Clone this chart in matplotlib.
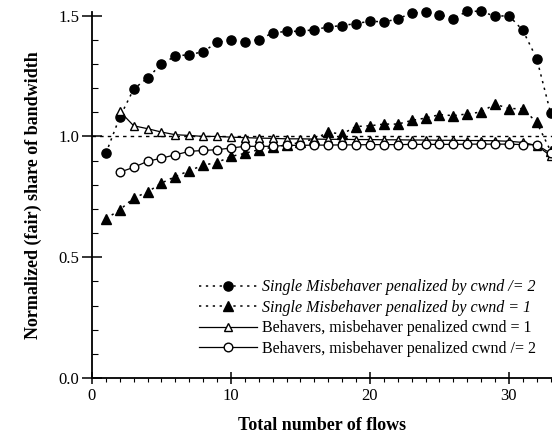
import matplotlib
matplotlib.use("Agg")
import matplotlib.pyplot as plt
from matplotlib.ticker import MultipleLocator, FormatStrFormatter

plt.rcParams['font.family'] = ['Liberation Serif', 'DejaVu Serif']

# Data
x_mis = list(range(1, 34))
mis_half = [0.93, 1.08, 1.196, 1.242, 1.30, 1.332, 1.339, 1.350, 1.390, 1.398,
            1.391, 1.401, 1.428, 1.435, 1.435, 1.442, 1.453, 1.459, 1.467, 1.477,
            1.474, 1.486, 1.511, 1.514, 1.504, 1.488, 1.518, 1.518, 1.497, 1.500,
            1.439, 1.322, 1.097]
mis_one = [0.659, 0.696, 0.745, 0.770, 0.807, 0.834, 0.858, 0.881, 0.892, 0.917,
           0.93, 0.945, 0.955, 0.965, 0.975, 0.99, 1.017, 1.010, 1.041, 1.044,
           1.051, 1.051, 1.066, 1.076, 1.090, 1.086, 1.093, 1.101, 1.134, 1.115,
           1.115, 1.058, 0.94]
x_beh = list(range(2, 34))
beh_one = [1.104, 1.044, 1.032, 1.018, 1.007, 1.004, 1.0, 1.0, 0.997, 0.995,
           0.993, 0.992, 0.99, 0.99, 0.989, 0.988, 0.988, 0.987, 0.987, 0.986,
           0.986, 0.985, 0.985, 0.984, 0.984, 0.983, 0.983, 0.982, 0.98, 0.975,
           0.962, 0.92]
beh_half = [0.852, 0.872, 0.897, 0.910, 0.924, 0.938, 0.942, 0.945, 0.952, 0.959,
            0.959, 0.959, 0.963, 0.963, 0.964, 0.964, 0.965, 0.965, 0.966, 0.966,
            0.966, 0.967, 0.967, 0.967, 0.967, 0.968, 0.968, 0.968, 0.968, 0.966,
            0.965, 0.93]

labels = ["Single Misbehaver penalized by cwnd /= 2",
          "Single Misbehaver penalized by cwnd = 1",
          "Behavers, misbehaver penalized cwnd = 1",
          "Behavers, misbehaver penalized cwnd /= 2"]

fig = plt.figure(figsize=(5.52, 4.38), dpi=100)
ax = fig.add_axes([92/552, 60/438, 1 - 92/552, (378-12)/438])

ax.axhline(1.0, color='black', lw=1.0, ls=(0, (2.5, 3)), zorder=1)

l1, = ax.plot(x_mis, mis_half, ls=(0, (1.5, 3)), color='black', lw=1.1,
              marker='o', ms=6.6, mfc='black', mec='black', clip_on=False, zorder=3)
l2, = ax.plot(x_mis, mis_one, ls=(0, (1.5, 3)), color='black', lw=1.1,
              marker='^', ms=6.8, mfc='black', mec='black', clip_on=False, zorder=3)
l3, = ax.plot(x_beh, beh_one, ls='-', color='black', lw=0.9,
              marker='^', ms=6.2, mfc='white', mec='black', mew=1.0, clip_on=False, zorder=4)
l4, = ax.plot(x_beh, beh_half, ls='-', color='black', lw=0.9,
              marker='o', ms=6.2, mfc='white', mec='black', mew=1.0, clip_on=False, zorder=4)

ax.set_xlim(0, 33.1)
ax.set_ylim(0, 1.515)
for s in ['top', 'right']:
    ax.spines[s].set_visible(False)
ax.spines['left'].set_linewidth(1.3)
ax.spines['bottom'].set_linewidth(1.3)

ax.xaxis.set_major_locator(MultipleLocator(10))
ax.xaxis.set_minor_locator(MultipleLocator(1))
ax.yaxis.set_major_locator(MultipleLocator(0.5))
ax.yaxis.set_minor_locator(MultipleLocator(0.1))
ax.yaxis.set_major_formatter(FormatStrFormatter('%.1f'))
ax.tick_params(axis='x', which='major', direction='inout', length=9, width=1.1, labelsize=12, pad=3)
ax.tick_params(axis='x', which='minor', direction='out', length=3, width=0.8)
ax.tick_params(axis='y', which='major', direction='inout', length=14, width=1.1, labelsize=12, pad=2)
ax.tick_params(axis='y', which='minor', direction='in', length=4, width=0.8)

ax.set_xlabel("Total number of flows", fontsize=13, fontweight='bold', labelpad=9)
ax.set_ylabel("Normalized (fair) share of bandwidth", fontsize=13, fontweight='bold', labelpad=12)

leg = ax.legend([l1, l2, l3, l4], labels, loc='lower left',
                bbox_to_anchor=(101/460, 15/366), frameon=False, fontsize=11.5,
                handlelength=3.6, handletextpad=0.3, labelspacing=0.28,
                borderaxespad=0)
for i, t in enumerate(leg.get_texts()):
    if i < 2:
        t.set_fontstyle('italic')

fig.savefig("out.png", dpi=100)
